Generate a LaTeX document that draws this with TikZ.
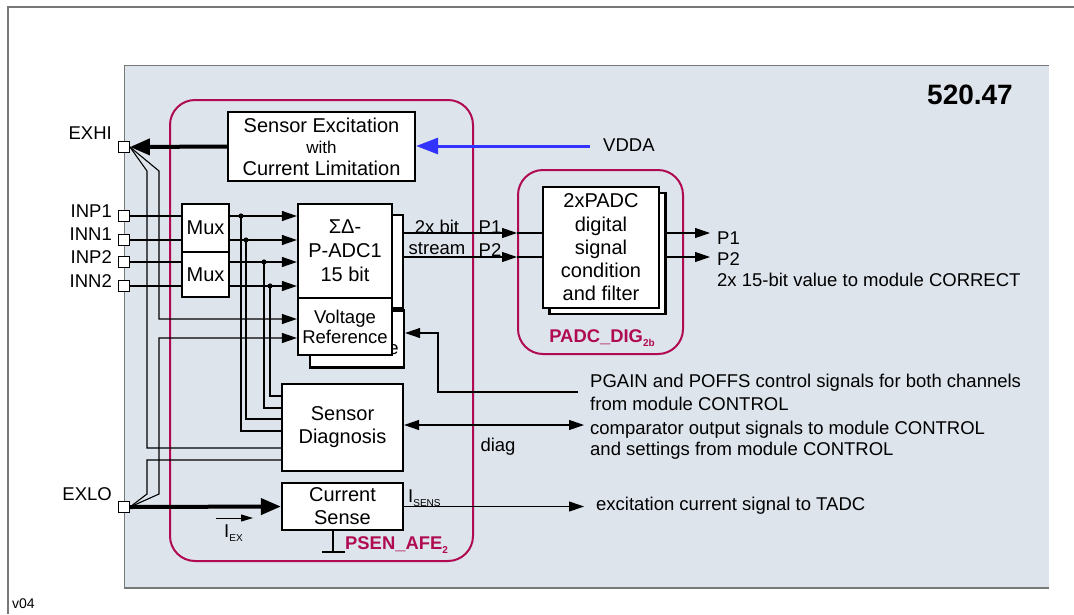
\documentclass[tikz,border=0pt]{standalone}
\usepackage{fontspec}
\setmainfont{Liberation Sans}
\usetikzlibrary{arrows.meta}
\definecolor{bgfill}{HTML}{DDE4EC}
\definecolor{magen}{RGB}{176,10,82}
\definecolor{vblue}{RGB}{51,51,255}
\definecolor{framegray}{RGB}{120,120,120}
\newcommand{\subtxt}[1]{\raisebox{-0.45ex}{\fontsize{10}{10}\selectfont #1}}
\begin{document}
\begin{tikzpicture}[x=1pt,y=-1pt,
  blk/.style={draw=black,line width=2.2pt,fill=white,inner sep=0pt,align=center,font=\fontsize{20}{23}\selectfont},
  pin/.style={draw=black,line width=0.9pt,fill=white,minimum size=11pt,inner sep=0pt},
  wire/.style={line width=1.1pt},
  arr/.style={wire,-{Triangle[length=15pt,width=10pt]}},
  dblarr/.style={wire,{Triangle[length=15pt,width=10pt]}-{Triangle[length=15pt,width=10pt]}},
  bigarr/.style={line width=4pt,-{Triangle[length=20pt,width=16pt]}},
  lbl/.style={font=\fontsize{18.5}{22}\selectfont,inner sep=0pt},
  grp/.style={draw=magen,line width=2pt,rounded corners=25pt,inner sep=0pt},
  grplbl/.style={text=magen,font=\bfseries\fontsize{18.4}{22}\selectfont,inner sep=0pt}
]
\useasboundingbox (0,0) rectangle (1074,614);
% frames
\draw[framegray,line width=2pt] (8,614) -- (8,7) -- (1074,7);
\fill[bgfill] (124,65) rectangle (1049,588);
\draw[framegray,line width=1pt] (124,588) -- (124,65) -- (1049,65);
\draw[framegray,line width=2pt] (124,588) -- (1049,588);
\node[font=\fontsize{14}{16}\selectfont,inner sep=0pt,anchor=west] (ver) at (12,604) {v04};
\node[font=\bfseries\fontsize{28}{30}\selectfont,inner sep=0pt] (title) at (970,95) {520.47};

% group outlines
\node[grp,minimum width=303pt,minimum height=461pt] (psen) at (321.5,330.5) {};
\node[grp,minimum width=165pt,minimum height=184pt] (padcdig) at (600.5,262) {};
\node[grplbl,anchor=west] (psenlbl) at (345,545) {PSEN\_AFE\subtxt{2}};
\node[grplbl] (padclbl) at (602,338) {PADC\_DIG\subtxt{2b}};

% pins
\node[pin] (exhi) at (124,147) {};
\node[pin] (inp1) at (124,216) {};
\node[pin] (inn1) at (124,240) {};
\node[pin] (inp2) at (124,262) {};
\node[pin] (inn2) at (124,286) {};
\node[pin] (exlo) at (124,507) {};
\node[lbl,anchor=east] (exhil) at (112,133) {EXHI};
\node[lbl,anchor=east] (inp1l) at (112,211) {INP1};
\node[lbl,anchor=east] (inn1l) at (112,234) {INN1};
\node[lbl,anchor=east] (inp2l) at (112,257) {INP2};
\node[lbl,anchor=east] (inn2l) at (112,281) {INN2};
\node[lbl,anchor=east] (exlol) at (112,494) {EXLO};

% tap coordinates
\coordinate (d1) at (241,216);
\coordinate (d2) at (246,240);
\coordinate (d3) at (264,262);
\coordinate (d4) at (270,286);

% blocks
\node[blk,minimum width=187pt,minimum height=69pt,font=\fontsize{20}{21.5}\selectfont] (exc) at (321.5,146.5)
  {Sensor Excitation\\{\fontsize{17}{18}\selectfont with}\\Current Limitation};
\node[blk,minimum width=47pt,minimum height=48pt] (mux1) at (205.5,228) {Mux};
\node[blk,minimum width=47pt,minimum height=45pt] (mux2) at (205.5,274.5) {Mux};
\node[blk,minimum width=94pt,minimum height=93pt] (adcs) at (356,261.5) {};
\node[blk,minimum width=94pt,minimum height=57pt] (vrefs) at (357,339) {};
\node[font=\fontsize{18.5}{20}\selectfont,inner sep=0pt] (vrefe) at (393.5,350) {e};
\node[blk,minimum width=94pt,minimum height=94pt,font=\fontsize{20}{24}\selectfont] (adc) at (345,251) {ΣΔ-\\P-ADC1\\15 bit};
\node[blk,minimum width=94pt,minimum height=57pt,font=\fontsize{18.5}{20}\selectfont] (vref) at (345,326.5) {Voltage\\Reference};
\node[blk,minimum width=121pt,minimum height=87pt] (diag) at (342.5,427.5) {Sensor\\Diagnosis};
\node[blk,minimum width=121pt,minimum height=47pt] (cs) at (342.5,506.5) {Current\\Sense};
\node[blk,minimum width=116pt,minimum height=121pt] (padcs) at (607.5,253.5) {};
\node[blk,minimum width=116pt,minimum height=121pt,font=\fontsize{20}{23.3}\selectfont] (padc) at (601,247.5)
  {2xPADC\\digital\\signal\\condition\\and filter};

% wires
\draw[wire] (inp1.east) -- (inp1.east -| mux1.west);
\draw[wire] (inn1.east) -- (inn1.east -| mux1.west);
\draw[wire] (inp2.east) -- (inp2.east -| mux2.west);
\draw[wire] (inn2.east) -- (inn2.east -| mux2.west);
\draw[arr] (inp1 -| mux1.east) -- (inp1 -| adc.west);
\draw[arr] (inn1 -| mux1.east) -- (inn1 -| adc.west);
\draw[arr] (inp2 -| mux2.east) -- (inp2 -| adc.west);
\draw[arr] (inn2 -| mux2.east) -- (inn2 -| adc.west);
\foreach \d in {d1,d2,d3,d4} \fill (\d) circle (2.6pt);
\draw[wire] (d1) |- (diag.west |- 0,431);
\draw[wire] (d2) |- (diag.west |- 0,419);
\draw[wire] (d3) |- (diag.west |- 0,408);
\draw[wire] (d4) |- (diag.west |- 0,396);
% EXHI fan
\draw[wire] (exhi.east) -- (147,171) -- (147,448) -- (diag.west |- 0,448);
\draw[arr] (exhi.east) -- (159,171) -- (159,319) -- (vref.west |- 0,319);
% EXLO fan
\draw[wire] (exlo.east) -- (147,494) -- (147,460) -- (diag.west |- 0,460);
\draw[arr] (exlo.east) -- (159,494) -- (159,338) -- (vref.west |- 0,338);
% thick arrows
\draw[bigarr] (exc.west) -- (exhi.east);
\draw[bigarr] (exlo.east) -- (cs.west);
% VDDA
\node[lbl,anchor=west] (vdda) at (603,145) {VDDA};
\coordinate (vddaend) at (590,146);
\draw[vblue,line width=3pt,-{Triangle[length=22pt,width=16pt]}] (vddaend) -- (vddaend -| exc.east);
% ADC outputs
\coordinate (s1) at (403,233);
\coordinate (s2) at (403,257);
\draw[arr] (s1) -- (s1 -| padcdig.west);
\draw[arr] (s2) -- (s2 -| padcdig.west);
\draw[wire] (s1 -| padcdig.west) -- (s1 -| padc.west);
\draw[wire] (s2 -| padcdig.west) -- (s2 -| padc.west);
\node[lbl] (bitl) at (437,227) {2x bit};
\node[lbl] (streaml) at (437,249) {stream};
\node[lbl] (p1in) at (490,227) {P1};
\node[lbl] (p2in) at (490,250) {P2};
% PADC outputs
\coordinate (o1) at (710,233);
\coordinate (o2) at (710,257);
\draw[arr] (o1 -| padcs.east) -- (o1);
\draw[arr] (o2 -| padcs.east) -- (o2);
\node[lbl,anchor=west] (p1out) at (717,238) {P1};
\node[lbl,anchor=west] (p2out) at (717,259) {P2};
\node[lbl,anchor=west] (corr) at (717,280) {2x 15-bit value to module CORRECT};
% PGAIN
\coordinate (pgend) at (578,392);
\draw[arr] (pgend) -| (438,333) -- (vrefs.east |- 0,333);
\node[lbl,anchor=west] (pg1) at (590,383) {PGAIN and POFFS control signals for both channels};
\node[lbl,anchor=west] (pg2) at (590,404) {from module CONTROL};
% diag
\coordinate (dgend) at (584,425);
\draw[dblarr] (dgend -| diag.east) -- (dgend);
\node[lbl] (diaglbl) at (498,447) {diag};
\node[lbl,anchor=west] (cmp1) at (590,430) {comparator output signals to module CONTROL};
\node[lbl,anchor=west] (cmp2) at (590,451) {and settings from module CONTROL};
% current sense
\coordinate (csend) at (584,506.5);
\draw[arr] (cs.east) -- (csend);
\node[lbl,anchor=west] (isens) at (408,498) {I\subtxt{SENS}};
\node[lbl,anchor=west] (exc2) at (596,506) {excitation current signal to TADC};
% I_EX
\coordinate (iexa) at (216,518);
\coordinate (iexb) at (253,518);
\draw[line width=1pt,-{Triangle[length=12pt,width=7pt]}] (iexa) -- (iexb);
\node[lbl,anchor=west] (iex) at (224,533) {I\subtxt{EX}};
% ground
\coordinate (gtop) at (333,530);
\coordinate (gbot) at (333,552);
\draw[line width=2pt] (gtop) -- (gbot);
\draw[line width=2.5pt] (322,552) -- (345,552);
\end{tikzpicture}
\end{document}
